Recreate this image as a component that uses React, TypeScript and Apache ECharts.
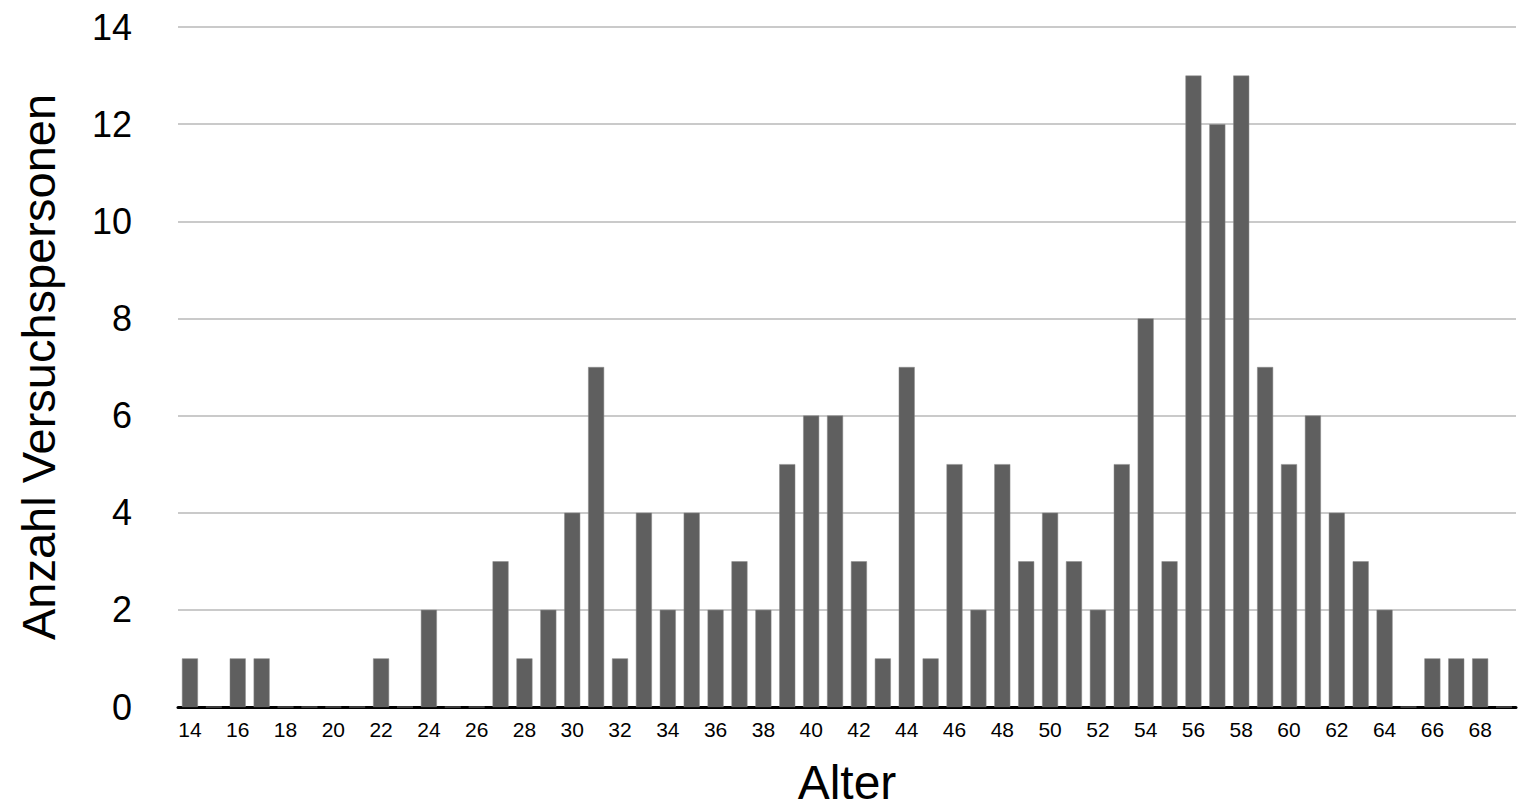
import React, { useEffect, useRef } from "react";
import * as echarts from "echarts";

const ages: string[] = [
  "14","15","16","17","18","19","20","21","22","23","24","25","26","27","28","29",
  "30","31","32","33","34","35","36","37","38","39","40","41","42","43","44","45",
  "46","47","48","49","50","51","52","53","54","55","56","57","58","59","60","61",
  "62","63","64","65","66","67","68","69",
];
const counts: number[] = [
  1,0,1,1,0,0,0,0,1,0,2,0,0,3,1,2,
  4,7,1,4,2,4,2,3,2,5,6,6,3,1,7,1,
  5,2,5,3,4,3,2,5,8,3,13,12,13,7,5,6,
  4,3,2,0,1,1,1,0,
];
const yTicks = { min: 0, max: 14, interval: 2 };
const xName = "Alter";
const yName = "Anzahl Versuchspersonen";

const FONT = "'Liberation Sans', Arial, Helvetica, sans-serif";

export default function App() {
  const ref = useRef<HTMLDivElement>(null);
  useEffect(() => {
    document.body.style.margin = "0";
    if (!ref.current) return;
    const chart = echarts.init(ref.current, undefined, { renderer: "svg" });
    chart.setOption({
      animation: false,
      backgroundColor: "#ffffff",
      grid: { left: 178, right: 19, top: 27, bottom: 103 },
      xAxis: {
        type: "category",
        data: ages,
        name: xName,
        nameLocation: "middle",
        nameGap: 51,
        nameTextStyle: { fontFamily: FONT, fontSize: 48, color: "#000" },
        axisLine: { show: true, lineStyle: { color: "#000", width: 3 } },
        axisTick: { show: false },
        axisLabel: {
          interval: 1,
          fontFamily: FONT,
          fontSize: 21,
          color: "#000",
          margin: 12,
        },
      },
      yAxis: {
        type: "value",
        min: yTicks.min,
        max: yTicks.max,
        interval: yTicks.interval,
        name: yName,
        nameLocation: "middle",
        nameRotate: 90,
        nameGap: 116,
        nameTextStyle: { fontFamily: FONT, fontSize: 47, color: "#000" },
        axisLine: { show: false },
        axisTick: { show: false },
        axisLabel: { fontFamily: FONT, fontSize: 36, color: "#000", margin: 46 },
        splitLine: { lineStyle: { color: "#b9b9b9", width: 1.5 } },
      },
      series: [
        {
          type: "bar",
          data: counts,
          barWidth: 16,
          itemStyle: { color: "#5f5f5f", borderColor: "#8a8a8a", borderWidth: 0.5 },
        },
      ],
    });
    return () => chart.dispose();
  }, []);
  return <div ref={ref} style={{ width: 1535, height: 811 }} />;
}
